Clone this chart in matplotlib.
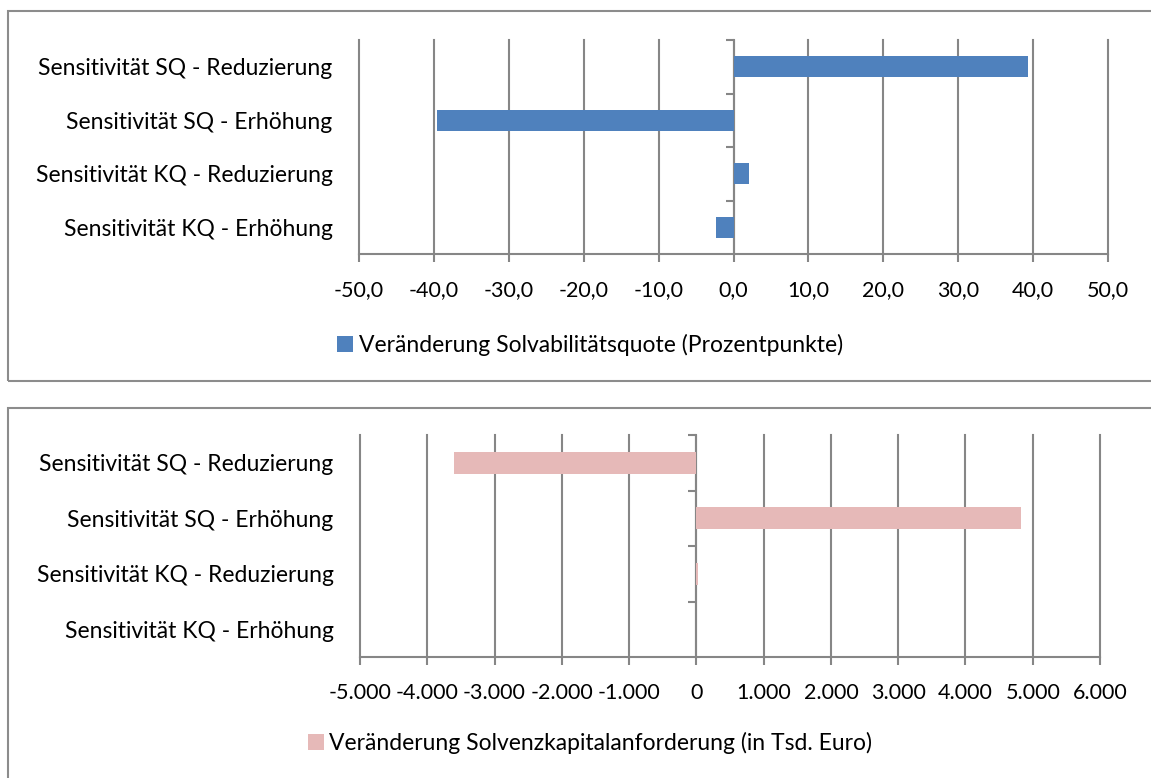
import numpy as np
import matplotlib
matplotlib.use("Agg")
import matplotlib.pyplot as plt
from matplotlib.patches import Rectangle
from matplotlib.ticker import FuncFormatter

plt.rcParams['font.family'] = ['Lato', 'DejaVu Sans']

categories = ['Sensitivität SQ - Reduzierung', 'Sensitivität SQ - Erhöhung',
              'Sensitivität KQ - Reduzierung', 'Sensitivität KQ - Erhöhung']
sq_change = [39.3, -39.6, 2.1, -2.3]
scr_change = [-3610, 4830, 20, -5]
sq_label = 'Veränderung Solvabilitätsquote (Prozentpunkte)'
scr_label = 'Veränderung Solvenzkapitalanforderung (in Tsd. Euro)'

grey = '#868686'
W, H = 1151, 778
fig = plt.figure(figsize=(W / 100, H / 100), dpi=100)

# chart frames
for top, bottom in [(11, 381), (408, 790)]:
    fig.patches.append(Rectangle((8 / W, 1 - bottom / H), 1.2, (bottom - top) / H,
                                 transform=fig.transFigure, fill=False,
                                 edgecolor='#8c8c8c', linewidth=1.5))


def draw(rect, values, color, label, ticks, fmt, legend_y):
    ax = fig.add_axes(rect)
    y = np.arange(len(categories))
    bars = ax.barh(y, values, height=0.4, color=color, label=label, zorder=3)
    ax.set_ylim(len(categories) - 0.5, -0.5)
    ax.set_xlim(ticks[0], ticks[-1])
    ax.set_xticks(ticks)
    ax.xaxis.set_major_formatter(FuncFormatter(fmt))
    ax.set_yticks(y)
    ax.set_yticklabels(categories)
    ax.grid(axis='x', color=grey, linewidth=1.5, zorder=0)
    for g in ax.get_xgridlines():
        g.set_clip_on(False)
    for s in ['top', 'right', 'left']:
        ax.spines[s].set_visible(False)
    ax.spines['bottom'].set_color(grey)
    ax.spines['bottom'].set_linewidth(1.5)
    ax.tick_params(axis='x', colors=grey, length=6, width=1.5, labelsize=15.5,
                   labelcolor='black', pad=13)
    ax.tick_params(axis='y', length=0, pad=19, labelsize=16.5)
    # vertical axis at zero with category-boundary ticks
    ax.axvline(0, color=grey, linewidth=1.5, zorder=2)
    bounds = np.arange(len(categories)) - 0.5
    ax.plot(np.zeros(len(bounds)), bounds, linestyle='none', marker=0,
            markersize=6, markeredgewidth=1.5, color=grey, clip_on=False)
    fig.legend(handles=[bars], labels=[label], loc='center',
               bbox_to_anchor=(590 / W, 1 - legend_y / H), frameon=False,
               fontsize=16.5, handlelength=0.7, handleheight=0.7,
               handletextpad=0.25)
    return ax


draw([359 / W, 1 - 254 / H, 749 / W, 214 / H], sq_change, '#4F81BD', sq_label,
     np.arange(-50, 51, 10),
     lambda v, p: f'{v:.1f}'.replace('.', ','), 345)
draw([360 / W, 1 - 657 / H, 740 / W, 222 / H], scr_change, '#E6B9B8', scr_label,
     np.arange(-5000, 6001, 1000),
     lambda v, p: f'{v:,.0f}'.replace(',', '.'), 743)

fig.savefig('out.png', dpi=100)
